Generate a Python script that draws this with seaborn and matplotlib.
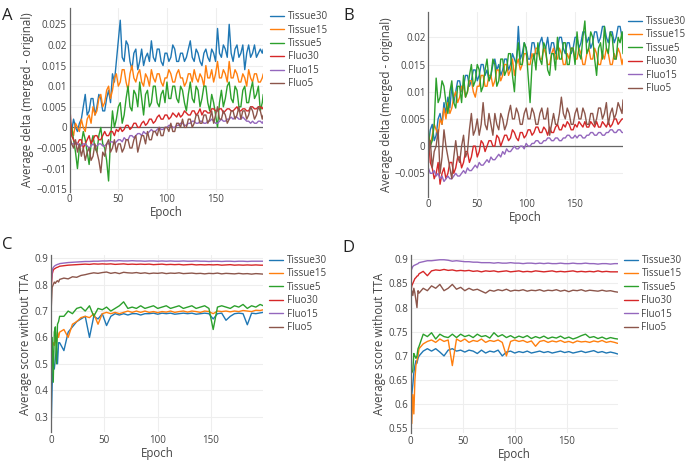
import numpy as np
import pandas as pd
import matplotlib
matplotlib.use('Agg')
import matplotlib.pyplot as plt
from matplotlib.lines import Line2D
from matplotlib.ticker import FuncFormatter, MultipleLocator
import seaborn as sns

SERIES = ['Tissue30', 'Tissue15', 'Tissue5', 'Fluo30', 'Fluo15', 'Fluo5']
COLORS = ['#1f77b4', '#ff7f0e', '#2ca02c', '#d62728', '#9467bd', '#8c564b']

epochs_delta = list(range(0, 200, 2)) + [199]
epochs_score = [0, 1, 2, 3, 4, 5, 6, 7] + list(range(8, 200, 4)) + [199]

# ---- panel A : average delta (epochs_delta) ----
a_tissue30 = [0.001, -0.001, 0.002, 0.000, -0.001, 0.001, 0.002, 0.005, 0.008, 0.003,
              0.004, 0.007, 0.007, 0.003, 0.005, 0.008, 0.007, 0.004, 0.004, 0.007,
              0.009, 0.006, 0.013, 0.011, 0.016, 0.021, 0.026, 0.017, 0.016, 0.021,
              0.020, 0.016, 0.014, 0.018, 0.019, 0.014, 0.016, 0.019, 0.015, 0.017,
              0.018, 0.016, 0.021, 0.017, 0.016, 0.019, 0.019, 0.016, 0.015, 0.018,
              0.018, 0.016, 0.017, 0.020, 0.019, 0.016, 0.016, 0.018, 0.018, 0.016,
              0.017, 0.019, 0.021, 0.017, 0.016, 0.019, 0.018, 0.016, 0.015, 0.018,
              0.019, 0.017, 0.016, 0.019, 0.018, 0.016, 0.024, 0.018, 0.017, 0.020,
              0.019, 0.017, 0.025, 0.018, 0.016, 0.019, 0.020, 0.017, 0.018, 0.020,
              0.014, 0.018, 0.020, 0.017, 0.018, 0.020, 0.017, 0.018, 0.019, 0.018,
              0.019]
a_tissue15 = [0.002, 0.000, -0.002, 0.001, 0.000, -0.001, 0.002, 0.000, -0.001, 0.002,
              0.003, 0.001, 0.005, 0.003, 0.004, 0.007, 0.008, 0.005, 0.006, 0.009,
              0.010, 0.007, 0.009, 0.012, 0.013, 0.010, 0.011, 0.014, 0.014, 0.011,
              0.009, 0.013, 0.015, 0.012, 0.011, 0.013, 0.014, 0.011, 0.010, 0.013,
              0.012, 0.010, 0.014, 0.012, 0.011, 0.013, 0.013, 0.011, 0.010, 0.012,
              0.012, 0.014, 0.013, 0.011, 0.011, 0.013, 0.014, 0.012, 0.012, 0.010,
              0.011, 0.013, 0.013, 0.011, 0.014, 0.012, 0.011, 0.013, 0.012, 0.010,
              0.015, 0.012, 0.012, 0.014, 0.011, 0.013, 0.016, 0.012, 0.012, 0.014,
              0.013, 0.011, 0.016, 0.012, 0.012, 0.014, 0.013, 0.011, 0.011, 0.013,
              0.012, 0.010, 0.014, 0.012, 0.011, 0.013, 0.013, 0.011, 0.011, 0.012,
              0.013]
a_tissue5 = [-0.004, 0.000, -0.003, -0.006, -0.010, -0.005, -0.004, -0.001, -0.003, -0.006,
             -0.009, -0.004, -0.002, -0.005, -0.006, -0.002, 0.000, -0.004, -0.005, -0.008,
             -0.013, -0.003, 0.004, 0.000, 0.002, 0.005, 0.006, 0.001, 0.003, 0.007,
             0.010, 0.005, 0.004, 0.009, 0.008, 0.005, 0.011, 0.007, 0.003, 0.008,
             0.009, 0.005, 0.006, 0.010, 0.010, 0.006, 0.005, 0.008, 0.009, 0.006,
             0.011, 0.007, 0.007, 0.010, 0.010, 0.007, 0.006, 0.010, 0.009, 0.006,
             0.004, 0.008, 0.011, 0.007, 0.006, 0.010, 0.009, 0.005, 0.007, 0.010,
             0.010, 0.006, 0.004, 0.008, 0.006, 0.003, 0.000, 0.006, 0.009, 0.005,
             0.007, 0.010, 0.011, 0.007, 0.006, 0.010, 0.009, 0.005, 0.005, 0.009,
             0.010, 0.006, 0.006, 0.009, 0.011, 0.007, 0.008, 0.010, 0.004, 0.006,
             0.008]
a_fluo30 = [0.006, -0.002, -0.003, -0.004, -0.004, -0.003, -0.003, -0.005, -0.004, -0.003,
            -0.002, -0.004, -0.003, -0.002, -0.002, -0.003, -0.003, -0.002, -0.001, -0.002,
            -0.002, -0.001, -0.001, -0.002, -0.0005, -0.001, 0.000, -0.001, -0.0005, 0.0005,
            0.0005, -0.0005, 0.000, 0.001, 0.001, 0.000, 0.000, 0.001, 0.0015, 0.0005,
            0.001, 0.002, 0.002, 0.001, 0.0015, 0.0025, 0.003, 0.002, 0.002, 0.003,
            0.003, 0.002, 0.0025, 0.0035, 0.003, 0.0025, 0.0035, 0.0025, 0.003, 0.004,
            0.0035, 0.003, 0.003, 0.004, 0.004, 0.003, 0.0035, 0.0045, 0.003, 0.004,
            0.004, 0.0035, 0.0035, 0.0045, 0.0045, 0.004, 0.004, 0.0045, 0.0045, 0.0035,
            0.004, 0.0045, 0.0045, 0.004, 0.004, 0.0045, 0.005, 0.004, 0.004, 0.0045,
            0.0045, 0.004, 0.004, 0.005, 0.005, 0.0045, 0.0045, 0.005, 0.005, 0.0045,
            0.005]
a_fluo15 = [-0.003, -0.004, -0.004, -0.0035, -0.004, -0.0045, -0.0045, -0.004, -0.004, -0.0045,
            -0.005, -0.0045, -0.004, -0.0045, -0.0045, -0.004, -0.004, -0.0045, -0.0045, -0.004,
            -0.004, -0.0035, -0.0035, -0.004, -0.0035, -0.003, -0.003, -0.0035, -0.0025, -0.003,
            -0.003, -0.002, -0.002, -0.0025, -0.002, -0.0015, -0.0015, -0.002, -0.001, -0.0015,
            -0.0015, -0.001, -0.0005, -0.001, -0.001, -0.0005, 0.000, -0.0005, -0.0005, 0.000,
            0.000, 0.0005, 0.0005, 0.000, 0.000, 0.0005, 0.0005, 0.001, 0.001, 0.0005,
            0.0005, 0.001, 0.001, 0.0015, 0.0015, 0.001, 0.001, 0.0015, 0.0015, 0.001,
            0.001, 0.0015, 0.0015, 0.002, 0.0015, 0.001, 0.001, 0.0015, 0.002, 0.0015,
            0.0015, 0.002, 0.002, 0.0025, 0.002, 0.0025, 0.0025, 0.002, 0.002, 0.0025,
            0.002, 0.0015, 0.0015, 0.001, 0.0015, 0.001, 0.001, 0.0015, 0.0015, 0.001,
            0.0015]
a_fluo5 = [-0.002, -0.004, -0.005, -0.003, -0.006, -0.004, -0.007, -0.005, -0.008, -0.006,
           -0.005, -0.008, -0.007, -0.004, -0.006, -0.008, -0.011, -0.006, -0.007, -0.004,
           -0.003, -0.006, -0.005, -0.003, -0.006, -0.004, -0.004, -0.006, -0.005, -0.003,
           -0.003, -0.005, -0.005, -0.003, -0.002, -0.006, -0.004, -0.002, -0.002, -0.004,
           -0.001, -0.003, -0.003, -0.001, -0.001, -0.002, 0.000, -0.002, -0.002, 0.000,
           0.000, -0.001, 0.001, -0.001, -0.001, 0.001, 0.001, 0.000, 0.002, 0.000,
           0.000, 0.002, 0.002, 0.000, 0.001, 0.003, 0.003, 0.001, 0.001, 0.003,
           0.003, 0.001, 0.002, 0.004, 0.001, 0.003, 0.005, 0.002, 0.002, 0.004,
           0.003, 0.001, 0.002, 0.004, 0.004, 0.002, 0.003, 0.005, 0.002, 0.004,
           0.004, 0.002, 0.003, 0.005, 0.004, 0.002, 0.003, 0.005, 0.004, 0.002,
           0.003]

# ---- panel B ----
b_tissue30 = [0.000, 0.003, 0.004, 0.001, 0.002, 0.005, 0.006, 0.004, 0.008, 0.006,
              0.009, 0.007, 0.011, 0.008, 0.010, 0.012, 0.012, 0.010, 0.011, 0.013,
              0.013, 0.011, 0.012, 0.014, 0.014, 0.012, 0.013, 0.015, 0.015, 0.013,
              0.014, 0.012, 0.013, 0.015, 0.016, 0.014, 0.015, 0.013, 0.014, 0.016,
              0.016, 0.014, 0.015, 0.017, 0.016, 0.015, 0.022, 0.016, 0.017, 0.019,
              0.018, 0.016, 0.016, 0.019, 0.019, 0.017, 0.017, 0.019, 0.020, 0.018,
              0.018, 0.020, 0.017, 0.019, 0.019, 0.017, 0.018, 0.020, 0.020, 0.018,
              0.017, 0.019, 0.019, 0.017, 0.018, 0.020, 0.020, 0.018, 0.019, 0.021,
              0.021, 0.019, 0.020, 0.018, 0.019, 0.021, 0.021, 0.019, 0.020, 0.022,
              0.022, 0.020, 0.019, 0.021, 0.021, 0.019, 0.020, 0.022, 0.022, 0.020,
              0.021]
b_tissue15 = [0.001, 0.000, 0.002, 0.004, 0.003, 0.002, 0.005, 0.004, 0.007, 0.005,
              0.008, 0.006, 0.007, 0.009, 0.010, 0.008, 0.009, 0.011, 0.011, 0.009,
              0.010, 0.012, 0.012, 0.010, 0.009, 0.011, 0.011, 0.013, 0.013, 0.011,
              0.011, 0.013, 0.013, 0.011, 0.012, 0.014, 0.014, 0.012, 0.013, 0.015,
              0.015, 0.013, 0.014, 0.016, 0.013, 0.015, 0.016, 0.014, 0.015, 0.017,
              0.017, 0.015, 0.015, 0.017, 0.016, 0.018, 0.018, 0.016, 0.016, 0.018,
              0.017, 0.015, 0.015, 0.017, 0.018, 0.016, 0.016, 0.018, 0.017, 0.015,
              0.015, 0.017, 0.016, 0.018, 0.018, 0.016, 0.016, 0.018, 0.017, 0.015,
              0.015, 0.017, 0.018, 0.016, 0.016, 0.018, 0.017, 0.015, 0.015, 0.017,
              0.016, 0.018, 0.017, 0.015, 0.015, 0.017, 0.016, 0.018, 0.017, 0.015,
              0.016]
b_tissue5 = [0.003, 0.000, 0.001, 0.004, 0.0125, 0.008, 0.009, 0.012, 0.011, 0.008,
             0.006, 0.010, 0.012, 0.008, 0.007, 0.011, 0.011, 0.008, 0.013, 0.009,
             0.010, 0.013, 0.015, 0.011, 0.012, 0.015, 0.014, 0.010, 0.011, 0.014,
             0.016, 0.012, 0.013, 0.016, 0.015, 0.011, 0.012, 0.016, 0.016, 0.013,
             0.014, 0.017, 0.017, 0.013, 0.010, 0.016, 0.019, 0.015, 0.015, 0.019,
             0.018, 0.013, 0.008, 0.015, 0.017, 0.014, 0.019, 0.016, 0.015, 0.019,
             0.018, 0.014, 0.013, 0.017, 0.017, 0.014, 0.020, 0.016, 0.016, 0.019,
             0.019, 0.015, 0.015, 0.018, 0.018, 0.015, 0.021, 0.017, 0.016, 0.020,
             0.023, 0.017, 0.018, 0.021, 0.020, 0.016, 0.013, 0.018, 0.019, 0.016,
             0.022, 0.018, 0.017, 0.021, 0.020, 0.016, 0.016, 0.020, 0.019, 0.021,
             0.017]
b_fluo30 = [0.002, -0.003, -0.004, -0.006, -0.005, -0.003, -0.007, -0.005, -0.004, -0.006,
            -0.005, -0.003, -0.003, -0.005, -0.004, -0.002, -0.002, -0.004, -0.003, -0.001,
            -0.001, -0.003, -0.002, 0.000, 0.000, -0.002, -0.001, 0.001, 0.0005, -0.001,
            0.000, 0.001, 0.001, 0.000, 0.000, 0.002, 0.0015, 0.000, 0.001, 0.002,
            0.002, 0.001, 0.0015, 0.003, 0.0025, 0.0015, 0.001, 0.0025, 0.0025, 0.0015,
            0.002, 0.003, 0.003, 0.002, 0.0025, 0.0035, 0.0035, 0.0025, 0.0025, 0.0035,
            0.003, 0.002, 0.0035, 0.0025, 0.0025, 0.0035, 0.004, 0.003, 0.003, 0.004,
            0.0035, 0.0045, 0.004, 0.003, 0.003, 0.004, 0.0035, 0.0045, 0.004, 0.0035,
            0.0045, 0.0035, 0.0035, 0.0045, 0.004, 0.0035, 0.0045, 0.0035, 0.0035, 0.0045,
            0.004, 0.0035, 0.0045, 0.0035, 0.004, 0.005, 0.005, 0.004, 0.0045, 0.005,
            0.005]
b_fluo15 = [-0.004, -0.005, -0.005, -0.0045, -0.0055, -0.005, -0.006, -0.0055, -0.0065, -0.006,
            -0.0055, -0.006, -0.006, -0.0055, -0.005, -0.0055, -0.0055, -0.005, -0.0045, -0.005,
            -0.004, -0.0045, -0.0045, -0.004, -0.0035, -0.004, -0.003, -0.0035, -0.0035, -0.003,
            -0.0025, -0.003, -0.002, -0.0025, -0.0025, -0.002, -0.0015, -0.002, -0.001, -0.0015,
            -0.0005, -0.001, -0.001, -0.0005, 0.000, -0.0005, -0.0005, 0.000, 0.000, -0.0005,
            0.0005, 0.000, 0.000, 0.0005, 0.0005, 0.001, 0.001, 0.0005, 0.0005, 0.001,
            0.001, 0.0015, 0.0015, 0.001, 0.001, 0.0015, 0.0015, 0.001, 0.001, 0.0015,
            0.0015, 0.002, 0.002, 0.0015, 0.0015, 0.002, 0.0015, 0.002, 0.002, 0.0015,
            0.0015, 0.002, 0.002, 0.0025, 0.0025, 0.002, 0.002, 0.0025, 0.0025, 0.002,
            0.002, 0.0025, 0.0025, 0.003, 0.003, 0.0025, 0.0025, 0.003, 0.003, 0.0025,
            0.0025]
b_fluo5 = [-0.002, 0.001, -0.004, -0.001, 0.000, 0.003, -0.005, -0.002, 0.003, 0.000,
           -0.002, -0.004, -0.006, -0.002, 0.001, -0.002, -0.003, 0.000, 0.002, -0.002,
           -0.001, 0.003, 0.006, 0.002, 0.003, 0.005, 0.002, 0.004, 0.008, 0.004,
           0.003, 0.006, 0.004, 0.002, 0.006, 0.004, 0.003, 0.006, 0.005, 0.003,
           0.004, 0.006, 0.0075, 0.005, 0.005, 0.007, 0.006, 0.004, 0.004, 0.006,
           0.007, 0.005, 0.005, 0.007, 0.006, 0.004, 0.004, 0.006, 0.007, 0.005,
           0.005, 0.007, 0.002, 0.004, 0.006, 0.004, 0.004, 0.006, 0.009, 0.006,
           0.005, 0.007, 0.006, 0.004, 0.004, 0.006, 0.007, 0.005, 0.005, 0.007,
           0.006, 0.004, 0.004, 0.006, 0.006, 0.004, 0.005, 0.007, 0.007, 0.005,
           0.006, 0.008, 0.004, 0.006, 0.007, 0.005, 0.006, 0.008, 0.007, 0.006,
           0.0085]

# ---- panel C : average score without TTA (epochs_score) ----
c_tissue30 = [0.25, 0.42, 0.50, 0.48, 0.52, 0.56, 0.50, 0.58,
              0.58, 0.55, 0.62, 0.64, 0.66, 0.67, 0.68, 0.60, 0.68, 0.67,
              0.69, 0.645, 0.68, 0.69, 0.685, 0.69, 0.685, 0.69, 0.69, 0.685,
              0.69, 0.69, 0.692, 0.688, 0.692, 0.69, 0.692, 0.688, 0.69, 0.692,
              0.69, 0.692, 0.688, 0.69, 0.692, 0.69, 0.67, 0.69, 0.692, 0.665,
              0.68, 0.69, 0.692, 0.69, 0.648, 0.692, 0.69, 0.693,
              0.695]
c_tissue15 = [0.45, 0.56, 0.58, 0.57, 0.60, 0.58, 0.62, 0.60,
              0.62, 0.63, 0.60, 0.65, 0.66, 0.675, 0.68, 0.675, 0.69, 0.65,
              0.69, 0.695, 0.69, 0.695, 0.69, 0.695, 0.70, 0.695, 0.70, 0.695,
              0.70, 0.695, 0.698, 0.694, 0.698, 0.696, 0.70, 0.695, 0.698, 0.70,
              0.696, 0.70, 0.698, 0.695, 0.70, 0.698, 0.69, 0.70, 0.698, 0.70,
              0.697, 0.70, 0.698, 0.702, 0.70, 0.698, 0.703, 0.702,
              0.705]
c_tissue5 = [0.45, 0.60, 0.43, 0.62, 0.64, 0.50, 0.65, 0.66,
             0.68, 0.68, 0.70, 0.69, 0.71, 0.715, 0.70, 0.72, 0.68, 0.71,
             0.705, 0.715, 0.70, 0.71, 0.72, 0.735, 0.71, 0.715, 0.71, 0.72,
             0.71, 0.715, 0.72, 0.71, 0.715, 0.72, 0.71, 0.715, 0.72, 0.71,
             0.715, 0.72, 0.71, 0.715, 0.72, 0.71, 0.63, 0.715, 0.72, 0.715,
             0.71, 0.72, 0.715, 0.725, 0.71, 0.72, 0.715, 0.725,
             0.72]
c_fluo30 = [0.78, 0.84, 0.855, 0.86, 0.862, 0.865, 0.866, 0.868,
            0.87, 0.872, 0.874, 0.875, 0.876, 0.877, 0.878, 0.877, 0.879, 0.878,
            0.879, 0.878, 0.879, 0.877, 0.878, 0.879, 0.877, 0.878, 0.877, 0.878,
            0.877, 0.878, 0.876, 0.877, 0.878, 0.876, 0.877, 0.876, 0.877, 0.875,
            0.876, 0.877, 0.875, 0.876, 0.875, 0.876, 0.875, 0.876, 0.874, 0.875,
            0.876, 0.874, 0.875, 0.874, 0.875, 0.874, 0.875, 0.874,
            0.874]
c_fluo15 = [0.80, 0.855, 0.865, 0.87, 0.873, 0.875, 0.877, 0.878,
            0.88, 0.882, 0.884, 0.885, 0.886, 0.887, 0.888, 0.888, 0.889, 0.889,
            0.89, 0.89, 0.891, 0.89, 0.891, 0.89, 0.89, 0.891, 0.89, 0.89,
            0.889, 0.89, 0.89, 0.889, 0.89, 0.889, 0.89, 0.889, 0.889, 0.89,
            0.889, 0.889, 0.89, 0.889, 0.889, 0.888, 0.889, 0.889, 0.888, 0.889,
            0.889, 0.888, 0.889, 0.889, 0.888, 0.889, 0.889, 0.889,
            0.889]
c_fluo5 = [0.70, 0.79, 0.80, 0.81, 0.805, 0.812, 0.815, 0.81,
           0.82, 0.825, 0.822, 0.83, 0.828, 0.835, 0.838, 0.842, 0.845, 0.843,
           0.846, 0.848, 0.843, 0.846, 0.842, 0.847, 0.845, 0.844, 0.846, 0.843,
           0.845, 0.842, 0.844, 0.843, 0.845, 0.842, 0.844, 0.843, 0.845, 0.842,
           0.843, 0.844, 0.842, 0.843, 0.841, 0.843, 0.842, 0.844, 0.841, 0.843,
           0.842, 0.841, 0.843, 0.841, 0.842, 0.840, 0.842, 0.841,
           0.840]

# ---- panel D ----
d_tissue30 = [0.57, 0.62, 0.64, 0.665, 0.68, 0.69, 0.685, 0.695,
              0.70, 0.71, 0.715, 0.71, 0.715, 0.708, 0.70, 0.712, 0.715, 0.71,
              0.712, 0.708, 0.712, 0.71, 0.705, 0.712, 0.706, 0.71, 0.708, 0.712,
              0.70, 0.708, 0.71, 0.706, 0.709, 0.707, 0.71, 0.706, 0.708, 0.71,
              0.707, 0.709, 0.706, 0.708, 0.71, 0.707, 0.709, 0.706, 0.708, 0.71,
              0.707, 0.709, 0.711, 0.707, 0.709, 0.706, 0.708, 0.706,
              0.704]
d_tissue15 = [0.60, 0.56, 0.62, 0.58, 0.65, 0.68, 0.69, 0.70,
              0.715, 0.725, 0.73, 0.733, 0.728, 0.735, 0.73, 0.733, 0.68, 0.735,
              0.73, 0.735, 0.728, 0.732, 0.73, 0.735, 0.728, 0.732, 0.73, 0.733,
              0.728, 0.70, 0.73, 0.733, 0.73, 0.732, 0.728, 0.731, 0.72, 0.73,
              0.732, 0.728, 0.731, 0.729, 0.732, 0.728, 0.73, 0.727, 0.731, 0.729,
              0.73, 0.728, 0.731, 0.729, 0.732, 0.728, 0.73, 0.728,
              0.726]
d_tissue5 = [0.665, 0.665, 0.67, 0.705, 0.70, 0.695, 0.70, 0.715,
             0.72, 0.745, 0.74, 0.748, 0.735, 0.745, 0.74, 0.738, 0.745, 0.738,
             0.745, 0.74, 0.743, 0.738, 0.745, 0.74, 0.742, 0.737, 0.748, 0.74,
             0.744, 0.738, 0.742, 0.737, 0.741, 0.738, 0.742, 0.736, 0.74, 0.737,
             0.741, 0.736, 0.739, 0.737, 0.741, 0.736, 0.739, 0.735, 0.738, 0.742,
             0.745, 0.738, 0.74, 0.736, 0.739, 0.735, 0.738, 0.736,
             0.735]
d_fluo30 = [0.83, 0.845, 0.85, 0.855, 0.86, 0.862, 0.865, 0.866,
            0.87, 0.875, 0.866, 0.876, 0.878, 0.877, 0.879, 0.877, 0.878, 0.876,
            0.877, 0.876, 0.877, 0.875, 0.876, 0.874, 0.876, 0.875, 0.876, 0.874,
            0.875, 0.876, 0.874, 0.875, 0.876, 0.874, 0.875, 0.874, 0.876, 0.875,
            0.874, 0.875, 0.876, 0.874, 0.875, 0.874, 0.875, 0.876, 0.874, 0.875,
            0.874, 0.875, 0.874, 0.876, 0.874, 0.875, 0.874, 0.874,
            0.874]
d_fluo15 = [0.875, 0.88, 0.885, 0.887, 0.888, 0.889, 0.89, 0.891,
            0.893, 0.895, 0.897, 0.897, 0.898, 0.899, 0.899, 0.898, 0.896, 0.897,
            0.896, 0.895, 0.895, 0.894, 0.894, 0.893, 0.893, 0.893, 0.892, 0.893,
            0.892, 0.892, 0.893, 0.892, 0.892, 0.891, 0.892, 0.892, 0.891, 0.892,
            0.891, 0.892, 0.891, 0.891, 0.892, 0.891, 0.891, 0.892, 0.891, 0.891,
            0.892, 0.891, 0.891, 0.890, 0.891, 0.891, 0.890, 0.891,
            0.891]
d_fluo5 = [0.82, 0.835, 0.825, 0.84, 0.83, 0.815, 0.80, 0.835,
           0.83, 0.84, 0.835, 0.845, 0.84, 0.848, 0.835, 0.84, 0.848, 0.838,
           0.842, 0.835, 0.84, 0.836, 0.838, 0.834, 0.83, 0.836, 0.834, 0.837,
           0.835, 0.838, 0.834, 0.836, 0.835, 0.837, 0.834, 0.836, 0.835, 0.837,
           0.834, 0.836, 0.835, 0.837, 0.834, 0.836, 0.833, 0.836, 0.835, 0.837,
           0.834, 0.836, 0.835, 0.834, 0.836, 0.834, 0.835, 0.833,
           0.832]


def long_df(epochs, cols):
    df = pd.DataFrame(dict(zip(SERIES, cols)))
    df['Epoch'] = epochs
    return df.melt(id_vars='Epoch', var_name='series', value_name='value')


def fmt(v, pos):
    return ('%g' % round(v, 6)).replace('-', '\u2212')


sns.set_theme(style='white')
plt.rcParams['font.family'] = ['Open Sans', 'DejaVu Sans']
GREY = '#444444'

fig = plt.figure(figsize=(6.85, 4.62), dpi=100)

# letter, axes rect, epochs, series, ylim, y step, y title, legend anchor, letter position
panels = [
    ('A', [0.1017, 0.5851, 0.2826, 0.3970], epochs_delta,
     [a_tissue30, a_tissue15, a_tissue5, a_fluo30, a_fluo15, a_fluo5],
     (-0.0156, 0.0289), 0.005, 'Average delta (merged - original)',
     (1.035, 0.984), (0.003, 0.957)),
    ('B', [0.6253, 0.5742, 0.2842, 0.4004], epochs_delta,
     [b_tissue30, b_tissue15, b_tissue5, b_fluo30, b_fluo15, b_fluo5],
     (-0.0093, 0.0247), 0.005, 'Average delta (merged - original)',
     (1.026, 0.977), (0.501, 0.957)),
    ('C', [0.0746, 0.0640, 0.3098, 0.3840], epochs_score,
     [c_tissue30, c_tissue15, c_tissue5, c_fluo30, c_fluo15, c_fluo5],
     (0.2396, 0.9125), 0.1, 'Average score without TTA',
     (1.027, 1.0), (0.003, 0.461)),
    ('D', [0.5996, 0.0620, 0.3022, 0.3860], epochs_score,
     [d_tissue30, d_tissue15, d_tissue5, d_fluo30, d_fluo15, d_fluo5],
     (0.5398, 0.9088), 0.05, 'Average score without TTA',
     (1.03, 1.0), (0.500, 0.455)),
]

for letter, rect, epochs, cols, ylim, ystep, ylabel, leg_xy, let_xy in panels:
    ax = fig.add_axes(rect)
    df = long_df(epochs, cols)
    ax.grid(True, color='#eeeeee', lw=0.8)
    ax.set_axisbelow(True)
    if letter in ('A', 'B'):
        ax.axhline(0, color='#666666', lw=0.9, zorder=1.5)
    sns.lineplot(data=df, x='Epoch', y='value', hue='series', hue_order=SERIES,
                 palette=dict(zip(SERIES, COLORS)), estimator=None,
                 linewidth=1.0, legend=False, ax=ax)
    ax.set_xlim(0, 199)
    ax.set_ylim(*ylim)
    ax.xaxis.set_major_locator(MultipleLocator(50))
    ax.yaxis.set_major_locator(MultipleLocator(ystep))
    ax.yaxis.set_major_formatter(FuncFormatter(fmt))
    for s in ('top', 'right', 'bottom'):
        ax.spines[s].set_visible(False)
    ax.spines['left'].set_color('#666666')
    ax.spines['left'].set_linewidth(0.9)
    ax.tick_params(length=0, labelsize=7.0, labelcolor=GREY, pad=2.0)
    ax.set_xlabel('Epoch', fontsize=8.3, color=GREY, labelpad=0.5)
    ax.set_ylabel(ylabel, fontsize=8.3, color=GREY, labelpad=1.5)
    handles = [Line2D([], [], color=c, lw=1.0) for c in COLORS]
    ax.legend(handles, SERIES, loc='upper left', bbox_to_anchor=leg_xy,
              frameon=False, fontsize=7.0, handlelength=1.45, handletextpad=0.35,
              labelspacing=0.25, borderpad=0, borderaxespad=0, labelcolor=GREY)
    fig.text(let_xy[0], let_xy[1], letter, fontsize=12, color='#222222')

fig.savefig('out.png', dpi=100)
